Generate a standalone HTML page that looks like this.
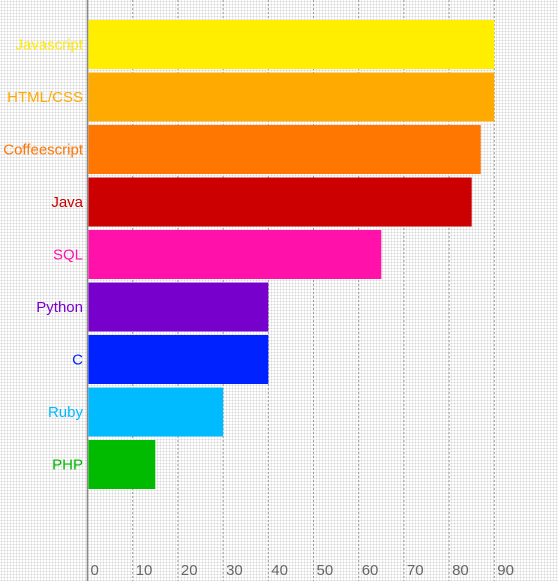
<!DOCTYPE html>
<html><head><meta charset="utf-8"><style>
html,body{margin:0;padding:0;width:558px;height:581px;overflow:hidden;background:#fff;}
#bg{position:absolute;left:0;top:0;width:558px;height:581px;
background-image:radial-gradient(circle,#d8d8d8 0.8px,transparent 1px);background-size:3px 3px;}
svg{position:absolute;left:0;top:0;}
text{font-family:"Liberation Sans",sans-serif;}
</style></head><body>
<div id="bg"></div>
<svg id="chart" width="558" height="581"></svg>
<script>
const categories=["Javascript","HTML/CSS","Coffeescript","Java","SQL","Python","C","Ruby","PHP"];
const values=[90,90,87,85,65,40,40,30,15];
const colors=["#ffee00","#ffaa00","#ff7700","#cc0000","#ff11aa","#7700cc","#0022ff","#00bbff","#00bb00"];
const ticks=[0,10,20,30,40,50,60,70,80,90];
const x0=87.5,pxPer=4.52,top0=20,pitch=52.5,barH=49;
const xs=v=>x0+v*pxPer;
const ys=i=>top0+i*pitch;
const svg=document.getElementById('chart');
const NS="http://www.w3.org/2000/svg";
function mk(t,a){const e=document.createElementNS(NS,t);for(const k in a)e.setAttribute(k,a[k]);svg.appendChild(e);return e;}
ticks.forEach(t=>{
  if(t>0){const g=mk('line',{x1:xs(t),x2:xs(t),y1:0,y2:581,stroke:'#999','stroke-dasharray':'2,2','stroke-width':1});
  
  }
  const l=mk('text',{x:xs(t)+3,y:575,'font-size':15,fill:'#666'});l.textContent=t;
  
  
});
const ax=mk('line',{x1:x0,x2:x0,y1:0,y2:581,stroke:'#888','stroke-width':1.5});


categories.forEach((c,i)=>{
  const r=mk('rect',{x:x0+1,y:ys(i),width:xs(values[i])-x0-1,height:barH,fill:colors[i]});
  
  
  const t=mk('text',{x:83,y:ys(i)+barH/2+5,'font-size':15,fill:colors[i],'text-anchor':'end'});t.textContent=c;
  
  
});
</script>
</body></html>
